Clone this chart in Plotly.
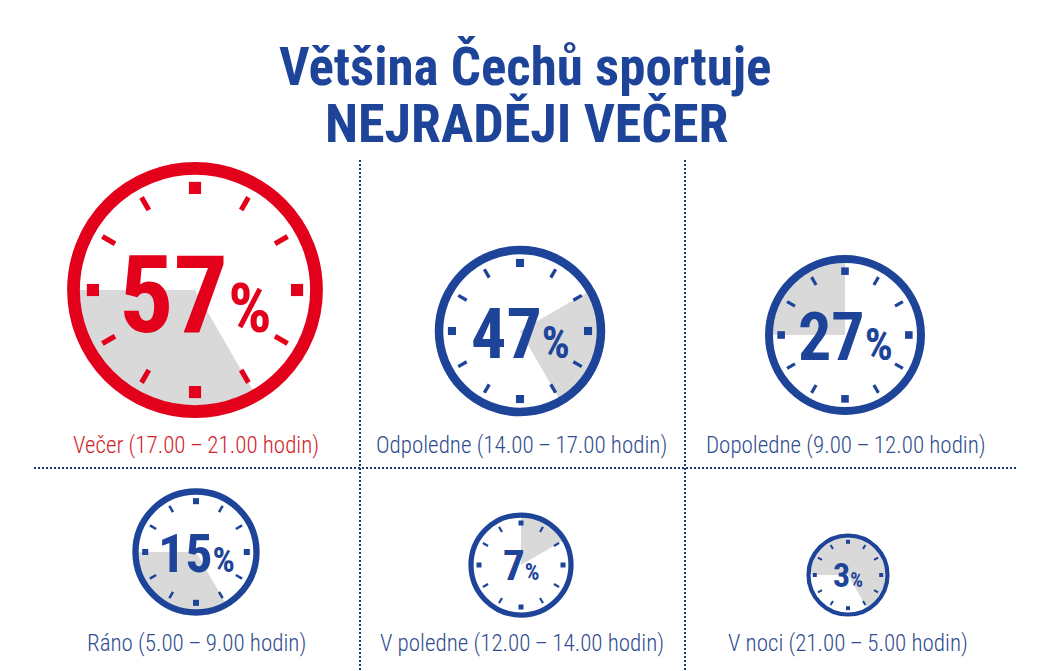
import plotly.graph_objects as go

W, H = 1050, 671
PAGE_MARGIN = 8  # default body margin of the html page

# ---------------------------------------------------------------------------
# Data
# ---------------------------------------------------------------------------
labels = [
    "Večer (17.00\u2009–\u200921.00 hodin)",
    "Odpoledne (14.00\u2009–\u200917.00 hodin)",
    "Dopoledne (9.00\u2009–\u200912.00 hodin)",
    "Ráno (5.00\u2009–\u20099.00 hodin)",
    "V poledne (12.00\u2009–\u200914.00 hodin)",
    "V noci (21.00\u2009–\u20095.00 hodin)",
]
shares = [57, 47, 27, 15, 7, 3]
start_hours = [17, 14, 9, 5, 12, 21]
end_hours = [21, 17, 12, 9, 14, 5]

# ---------------------------------------------------------------------------
# Layout (pixels on the page)
# ---------------------------------------------------------------------------
centers = [(195, 290), (520, 331), (845, 335), (196, 552), (521, 565), (848, 575)]
radii = [121.5, 81, 76, 60.5, 50, 39.5]
num_sizes = [108, 70, 66, 54, 43, 34]
pct_sizes = [68, 44, 44, 35, 23, 20]
text_offsets = [5, 3, 2, 1, 0, 0]
label_pos = [(196, 445), (521, 445), (846, 445), (196, 643), (522, 643), (848, 643)]

BLUE = "#1d4499"
RED = "#e2001a"
GREY = "#d9d9d9"
LABEL_BLUE = "#2f4c8e"
LABEL_RED = "#d2232a"
DOTS = "#1b3a7a"
FONT = "Roboto Condensed, Roboto, sans-serif"


def fx(v):
    return (v - PAGE_MARGIN) / W


def fy(v):
    return 1 - (v - PAGE_MARGIN) / H


fig = go.Figure()
layout = {}
annotations = []

for i, (share, h0, h1) in enumerate(zip(shares, start_hours, end_hours)):
    cx, cy = centers[i]
    R = radii[i]
    color = RED if i == 0 else BLUE
    pname = "polar" if i == 0 else f"polar{i + 1}"

    # grey sector for the time window
    span_h = (h1 - h0) % 24
    theta_start = (h0 % 12) * 30
    fig.add_trace(go.Barpolar(
        r=[1], theta=[theta_start + span_h * 15], width=[span_h * 30],
        marker=dict(color=GREY, line=dict(width=0)),
        subplot=pname, hoverinfo="skip", showlegend=False,
    ))

    # hour ticks
    r_t, th_t = [], []
    for h in range(12):
        if h % 3:
            r_t += [0.76, 0.88, None]
            th_t += [h * 30, h * 30, None]
    fig.add_trace(go.Scatterpolar(
        r=r_t, theta=th_t, mode="lines",
        line=dict(color=color, width=max(2, R * 0.042)),
        subplot=pname, hoverinfo="skip", showlegend=False,
    ))
    fig.add_trace(go.Scatterpolar(
        r=[0.84] * 4, theta=[0, 90, 180, 270], mode="markers",
        marker=dict(symbol="square", size=R * 0.1, color=color),
        subplot=pname, hoverinfo="skip", showlegend=False,
    ))

    layout[pname] = dict(
        domain=dict(x=[fx(cx - R), fx(cx + R)], y=[fy(cy + R), fy(cy - R)]),
        bgcolor="rgba(0,0,0,0)",
        radialaxis=dict(range=[0, 1], visible=False),
        angularaxis=dict(
            rotation=90, direction="clockwise", showline=True,
            linewidth=R * 0.105, linecolor=color, showgrid=False,
            ticks="", showticklabels=False,
        ),
    )

    annotations.append(dict(
        x=fx(cx), y=fy(cy + text_offsets[i]), xref="paper", yref="paper",
        text=f"{share}<span style='font-size:{pct_sizes[i]}px'>%</span>",
        showarrow=False, xanchor="center", yanchor="middle",
        font=dict(family=FONT, size=num_sizes[i], color=color, weight="bold"),
    ))

    lx, ly = label_pos[i]
    annotations.append(dict(
        x=fx(lx), y=fy(ly), xref="paper", yref="paper", text=labels[i],
        showarrow=False, xanchor="center", yanchor="middle",
        font=dict(family=FONT, size=23, weight=300,
                  color=LABEL_RED if i == 0 else LABEL_BLUE),
    ))

# title
annotations.append(dict(
    x=fx(525), y=fy(67), xref="paper", yref="paper", text="Většina Čechů sportuje",
    showarrow=False, xanchor="center", yanchor="middle",
    font=dict(family=FONT, size=53, color=BLUE, weight="bold"),
))
annotations.append(dict(
    x=fx(527), y=fy(123), xref="paper", yref="paper", text="NEJRADĚJI VEČER",
    showarrow=False, xanchor="center", yanchor="middle",
    font=dict(family=FONT, size=54, color=BLUE, weight="bold"),
))

# dotted dividers
dot = dict(color=DOTS, width=2, dash="2px,2px")
shapes = [
    dict(type="line", xref="paper", yref="paper", x0=fx(34), x1=fx(1017),
         y0=fy(468), y1=fy(468), line=dot),
    dict(type="line", xref="paper", yref="paper", x0=fx(360), x1=fx(360),
         y0=fy(160), y1=fy(680), line=dot),
    dict(type="line", xref="paper", yref="paper", x0=fx(685), x1=fx(685),
         y0=fy(160), y1=fy(680), line=dot),
]

fig.update_layout(
    width=W, height=H,
    margin=dict(l=0, r=0, t=0, b=0),
    paper_bgcolor="white", plot_bgcolor="white",
    annotations=annotations, shapes=shapes,
    showlegend=False,
    **layout,
)

fig.write_html("out.html")
